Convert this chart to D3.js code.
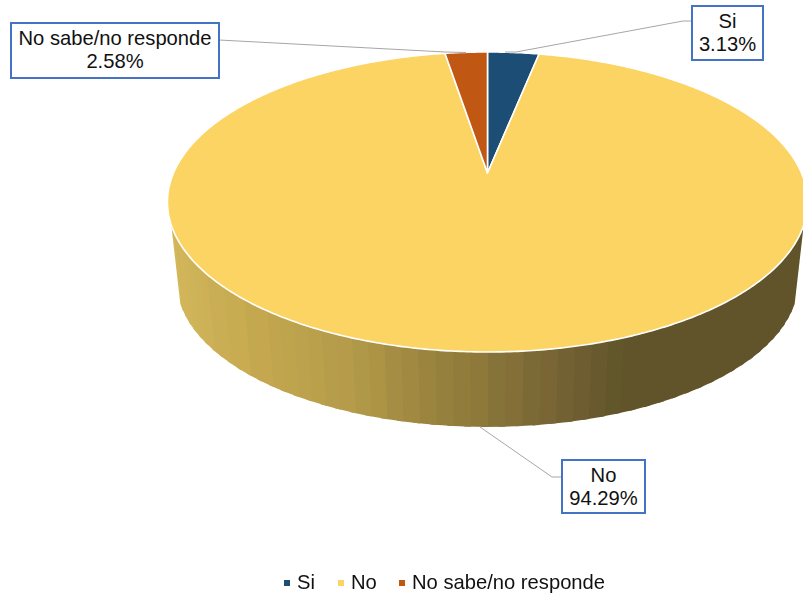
<!DOCTYPE html>
<html>
<head>
<meta charset="utf-8">
<script src="https://cdn.jsdelivr.net/npm/d3@7"></script>
<style>
html,body{margin:0;padding:0;background:#fff;overflow:hidden}
svg{display:block;filter:blur(0.45px)}
text{font-family:"Liberation Sans",Arial,sans-serif;font-size:20.2px;fill:#111}
</style>
</head>
<body>
<svg id="c" width="803" height="595"></svg>
<script>
const categories = ["Si", "No", "No sabe/no responde"];
const values = [3.13, 94.29, 2.58];
const labels = ["3.13%", "94.29%", "2.58%"];
const colors = ["#1B4D75", "#FBD463", "#C05713"];
const wallStops = [170, 250, 350, 430, 500, 560, 620, 803];
const wallShades = ["#D4B85C", "#C6A950", "#B59C4A", "#9A843E", "#877338", "#736234", "#61542A", "#61542A"];
const wallTints = [0, 1, -1, 2, -1, 1, -2, 1, 0, -1];

const svg = d3.select("#c");
const top3d = {cx: 487.5, ay: 173, A: 314, B: 144.4, k: -0.1933};
const low3d = {cx: 487.5, ay: 253.4, A: 305, B: 140, k: -0.1933};
const proj = (p, a) => {
  const x = Math.sin(a), y = -Math.cos(a), w = 1 + p.k * y;
  return [p.cx + p.A * x / w, p.ay + p.B * y / w];
};
const pie = d3.pie().sort(null).value(d => d)(values);
const wallColor = d3.scaleLinear().domain(wallStops).range(wallShades).clamp(true);
const line = d3.line();

// side wall, drawn as narrow shaded strips, each overlapping the next to hide seams
const deg = Math.PI / 180;
const step = 2.6 * deg;
const strips = d3.range(109.7 * deg, 250.3 * deg - step / 2, step);
svg.append("g").selectAll("path").data(strips).join("path")
  .attr("d", a => {
    const b = Math.min(a + step * 1.4, 250.3 * deg);
    return line([proj(top3d, a), proj(top3d, b), proj(low3d, b), proj(low3d, a)]) + "Z";
  })
  .each(function (a, i) {
    const x = proj(low3d, a + step / 2)[0];
    const c = d3.rgb(wallColor(x));
    const t = x < 620 ? wallTints[i % wallTints.length] : 0;
    const col = d3.rgb(c.r + t, c.g + t * 0.4, c.b - t * 0.3).formatHex();
    d3.select(this).attr("fill", col);
  });

// top face
svg.append("g").selectAll("path").data(pie).join("path")
  .attr("d", d => {
    const n = Math.max(2, Math.ceil((d.endAngle - d.startAngle) / 0.01));
    const pts = d3.range(n + 1).map(i => proj(top3d, d.startAngle + (d.endAngle - d.startAngle) * i / n));
    return line([[top3d.cx, top3d.ay], ...pts]) + "Z";
  })
  .attr("fill", (d, i) => colors[i])
  .attr("stroke", "#fff").attr("stroke-width", 1.6).attr("stroke-linejoin", "round");

// leader lines
const leaders = [
  [[692, 21], [683, 21], [516, 52], [505, 52]],
  [[562, 477], [552, 477], [480, 427]],
  [[219, 40], [445, 52], [466, 52.5]]
];
svg.append("g").selectAll("path").data(leaders).join("path")
  .attr("d", line).attr("fill", "none").attr("stroke", "#A6A6A6").attr("stroke-width", 1);

// data labels
const boxes = [
  {x: 692, y: 6, w: 71, h: 54},
  {x: 562, y: 460, w: 83, h: 53},
  {x: 11, y: 23, w: 208, h: 55}
];
const lab = svg.append("g").selectAll("g").data(boxes).join("g");
lab.append("rect")
  .attr("x", d => d.x).attr("y", d => d.y).attr("width", d => d.w).attr("height", d => d.h)
  .attr("fill", "#fff").attr("stroke", "#4472C4").attr("stroke-width", 2);
lab.append("text").attr("text-anchor", "middle")
  .attr("x", d => d.x + d.w / 2).attr("y", d => d.y + 22)
  .text((d, i) => categories[i]);
lab.append("text").attr("text-anchor", "middle")
  .attr("x", d => d.x + d.w / 2).attr("y", d => d.y + 45)
  .text((d, i) => labels[i]);

// legend
const legendX = [287, 341, 402];
const lg = svg.append("g").selectAll("g").data(categories).join("g")
  .attr("transform", (d, i) => `translate(${legendX[i]},583)`);
lg.append("rect").attr("x", -3).attr("y", -3).attr("width", 6).attr("height", 6)
  .attr("fill", (d, i) => colors[i]);
lg.append("text").attr("x", 10).attr("y", 6).text(d => d);
</script>
</body>
</html>
